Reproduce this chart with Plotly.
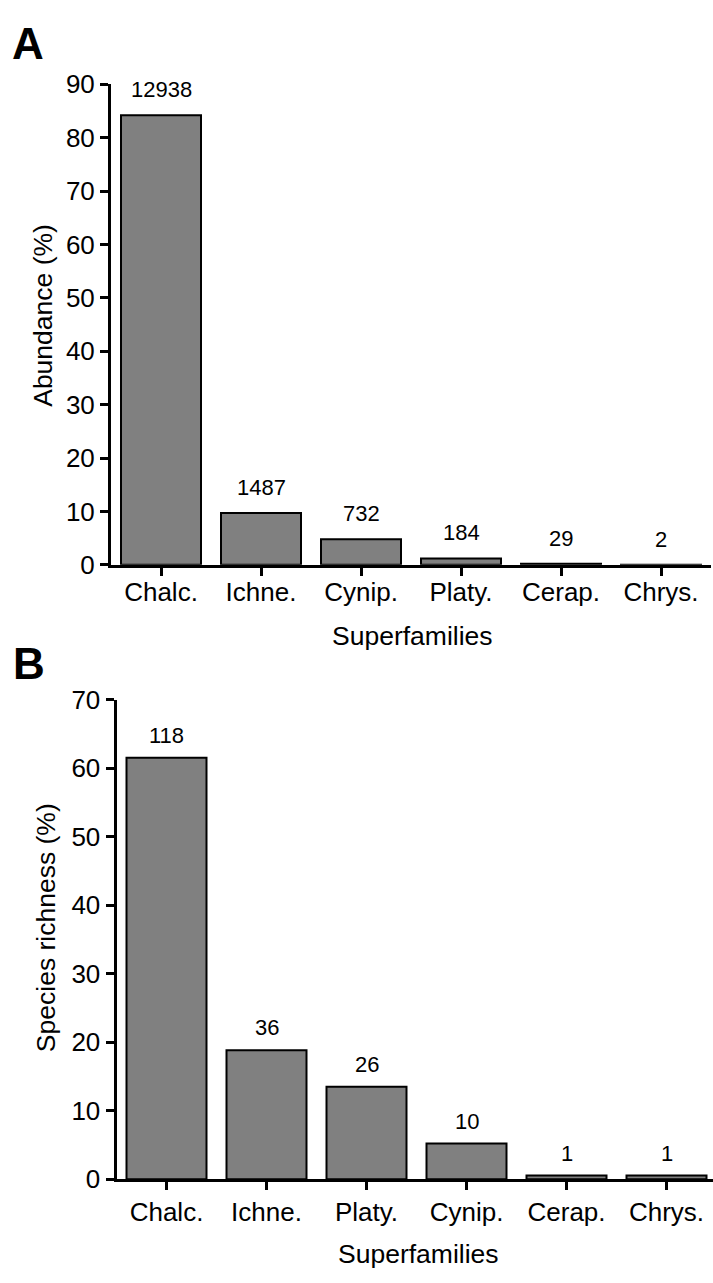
import plotly.graph_objects as go

# Panel A data
cats_a = ["Chalc.", "Ichne.", "Cynip.", "Platy.", "Cerap.", "Chrys."]
abund_pct = [84.2, 9.7, 4.8, 1.2, 0.19, 0.013]
abund_n = ["12938", "1487", "732", "184", "29", "2"]

# Panel B data
cats_b = ["Chalc.", "Ichne.", "Platy.", "Cynip.", "Cerap.", "Chrys."]
rich_pct = [61.5, 18.8, 13.5, 5.2, 0.52, 0.52]
rich_n = ["118", "36", "26", "10", "1", "1"]

y_ticks_a = [0, 10, 20, 30, 40, 50, 60, 70, 80, 90]
y_ticks_b = [0, 10, 20, 30, 40, 50, 60, 70]

W, H = 713, 1283
FONT = "Arial, Liberation Sans, sans-serif"
BAR_FILL = "#808080"

fig = go.Figure()
fig.add_trace(go.Bar(x=cats_a, y=abund_pct, xaxis="x", yaxis="y", width=0.8,
                     marker=dict(color=BAR_FILL, line=dict(color="black", width=2)),
                     hoverinfo="x+y", showlegend=False))
fig.add_trace(go.Bar(x=cats_b, y=rich_pct, xaxis="x2", yaxis="y2", width=0.8,
                     marker=dict(color=BAR_FILL, line=dict(color="black", width=2)),
                     hoverinfo="x+y", showlegend=False))

def px_x(p):
    return p / W

def px_y(p):
    return 1 - p / H

common_x = dict(type="category", showline=True, linecolor="black", linewidth=3,
                ticks="outside", ticklen=8, tickwidth=3, tickcolor="black",
                tickfont=dict(family=FONT, size=26, color="black"),
                showgrid=False, zeroline=False, fixedrange=True)
common_y = dict(showline=True, linecolor="black", linewidth=3,
                ticks="outside", ticklen=8, tickwidth=3, tickcolor="black",
                tickfont=dict(family=FONT, size=26, color="black"),
                showgrid=False, zeroline=False, fixedrange=True)

annotations = []
for c, v, t in zip(cats_a, abund_pct, abund_n):
    annotations.append(dict(x=c, y=v, xref="x", yref="y", text=t, showarrow=False,
                            yanchor="bottom", yshift=11,
                            font=dict(family=FONT, size=22, color="black")))
for c, v, t in zip(cats_b, rich_pct, rich_n):
    annotations.append(dict(x=c, y=v, xref="x2", yref="y2", text=t, showarrow=False,
                            yanchor="bottom", yshift=8,
                            font=dict(family=FONT, size=22, color="black")))

# Axis titles and panel letters
annotations += [
    dict(x=px_x(43), y=px_y(308), xref="paper", yref="paper", text="Abundance (%)",
         textangle=-90, showarrow=False, xanchor="center", yanchor="middle",
         font=dict(family=FONT, size=26.5, color="black")),
    dict(x=px_x(46), y=px_y(935), xref="paper", yref="paper", text="Species richness (%)",
         textangle=-90, showarrow=False, xanchor="center", yanchor="middle",
         font=dict(family=FONT, size=26.5, color="black")),
    dict(x=px_x(412), y=px_y(636), xref="paper", yref="paper", text="Superfamilies",
         showarrow=False, xanchor="center", yanchor="middle",
         font=dict(family=FONT, size=26.5, color="black")),
    dict(x=px_x(418), y=px_y(1269), xref="paper", yref="paper", text="Superfamilies",
         showarrow=False, xanchor="center", yanchor="middle",
         font=dict(family=FONT, size=26.5, color="black")),
    dict(x=px_x(28), y=px_y(29), xref="paper", yref="paper", text="<b>A</b>",
         showarrow=False, xanchor="center", yanchor="middle",
         font=dict(family=FONT, size=44, color="black")),
    dict(x=px_x(29), y=px_y(664), xref="paper", yref="paper", text="<b>B</b>",
         showarrow=False, xanchor="center", yanchor="middle",
         font=dict(family=FONT, size=44, color="black")),
]

fig.update_layout(
    width=W, height=H,
    margin=dict(l=0, r=0, t=0, b=0),
    paper_bgcolor="white", plot_bgcolor="white",
    bargap=0.2,
    xaxis=dict(common_x, domain=[px_x(111), px_x(711)], range=[-0.5, 5.5], anchor="y",
               ticklabelstandoff=-6),
    yaxis=dict(common_y, domain=[px_y(563), px_y(71)], range=[0, 90],
               tickvals=y_ticks_a, anchor="x"),
    xaxis2=dict(common_x, domain=[px_x(116.5), 1.0], range=[-0.5, 5.465], anchor="y2"),
    yaxis2=dict(common_y, domain=[px_y(1192), px_y(701)], range=[0, 70],
                tickvals=y_ticks_b, anchor="x2"),
    annotations=annotations,
    font=dict(family=FONT, color="black"),
)

fig.write_html("out.html")
